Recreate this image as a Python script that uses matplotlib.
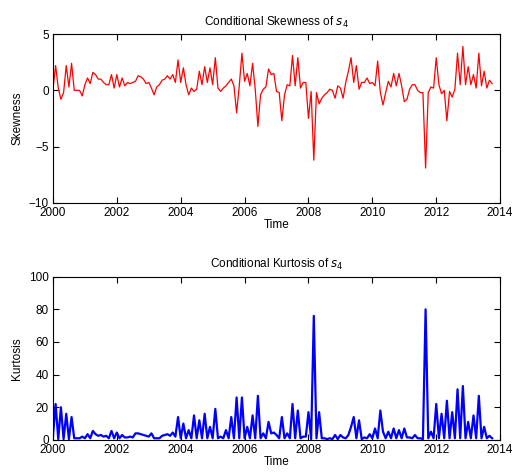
import numpy as np
import matplotlib
matplotlib.use("Agg")
import matplotlib.pyplot as plt

# monthly conditional moments, Jan 2000 onward
skewness = [0.1, 2.2, 0.2, -0.8, -0.2, 2.2, 0.3, 2.4, 0, 0, 0, -0.5, 0.5, 1.1, 0.6, 1.6,
            1.4, 1.0, 1.0, 0.7, 0.5, 0.5, 1.4, 0.2, 1.4, 0.3, 1.1, 0.4, 0.7, 0.6, 0.7, 0.8,
            1.3, 1.2, 1.0, 0.6, 0.7, 0.2, -0.4, 0.3, 0.5, 0.9, 1.0, 1.3, 1.0, 1.4, 0.7, 2.7,
            0.7, 2.0, 0.5, -0.4, 0.2, -0.1, 0.1, 1.7, 0.5, 2.1, 0.7, 2.0, 0.5, 2.9, 0.2, -0.1,
            0.2, 0.4, 0.7, 1.0, 0.4, -2.0, 0.4, 3.3, 0.8, 1.5, 0.4, 2.4, 0.1, -3.2, -0.4, 0.1,
            0.3, 1.9, 1.4, 1.5, -0.1, -0.2, -2.7, -0.4, 0.5, 0.4, 3.1, 0.4, 2.9, 0.2, 0.7, 0.7,
            -2.5, -0.1, -6.2, -0.2, -1.2, -0.7, -0.4, -0.2, 0.1, 0, -0.7, 0.4, 0.2, -0.7, 0.7, 1.7,
            2.9, 0.7, 2.2, 0.1, 0.7, 0.7, 1.1, 0.6, 0.7, 0.4, 2.6, -0.2, -1.3, -0.2, 0.8, 0.3,
            1.5, 0.4, 1.5, 0.4, -1.0, -0.8, 0.1, 0.5, 0.5, 0, -0.2, -0.2, -6.9, -0.2, 0.3, 0.2,
            2.9, 0.5, -0.3, 0, -2.7, -0.1, -0.6, 0.1, 3.3, 0.5, 3.9, 0.5, 2.1, 0.5, 1.4, 0.2,
            3.3, 0.4, 1.7, 0.2, 0.9, 0.6]
kurtosis = [2, 22, 0.5, 20, 0.5, 16, 0.5, 14, 1, 1, 1, 2, 1, 3.5, 1, 5.5,
            3.5, 2.5, 3, 2, 2.5, 1, 5.5, 1, 4.5, 1, 3, 1.5, 1.5, 2, 1.5, 4,
            4, 3.5, 3, 2.5, 2, 4, 1, 1, 1, 2.5, 3, 3.5, 2.5, 4.5, 2, 14,
            1, 10, 1, 6, 1, 15, 1, 12, 1, 16, 1, 8, 1, 19, 1, 2,
            1, 6, 1, 14, 1, 26, 1, 26, 1, 8, 1, 15, 1, 27, 1, 4,
            1, 11, 4, 4.5, 3, 1, 14, 1, 4, 1, 22, 1, 18, 1, 2, 2,
            17, 0.5, 76, 1, 17, 1, 1, 0.5, 1, 0.5, 3, 0.5, 3, 1.5, 1, 3,
            8, 14, 1, 12, 0.5, 1.5, 1, 3.5, 1, 7, 1, 18, 5, 1, 5, 1,
            7, 1, 6, 1, 7, 1.5, 1.5, 1, 3, 1, 1, 0.5, 80, 1, 5, 1,
            22, 1, 16, 1, 24, 1, 17, 1, 31, 1, 33, 1, 11, 1, 15, 1,
            27, 1, 8, 1, 2.5, 1]

time = 2000 + np.arange(len(skewness)) / 12.0
years = [2000, 2002, 2004, 2006, 2008, 2010, 2012, 2014]

plt.rcParams['font.family'] = ['Liberation Sans', 'DejaVu Sans']
plt.rcParams['font.size'] = 8.5

fig = plt.figure(figsize=(5.14, 4.73), dpi=100)
ax1 = fig.add_axes([0.103, 0.571, 0.870, 0.357])
ax2 = fig.add_axes([0.103, 0.070, 0.870, 0.345])

ax1.plot(time, skewness, color='red', linewidth=0.9)
ax1.set_ylim(-10, 5)
ax1.set_yticks([-10, -5, 0, 5])
ax1.set_title('Conditional Skewness of $s_4$', fontsize=8.5, pad=6)
ax1.set_ylabel('Skewness')

ax2.plot(time, kurtosis, color='blue', linewidth=1.6)
ax2.set_ylim(0, 100)
ax2.set_yticks([0, 20, 40, 60, 80, 100])
ax2.set_title('Conditional Kurtosis of $s_4$', fontsize=8.5, pad=6)
ax2.set_ylabel('Kurtosis')

for ax in (ax1, ax2):
    ax.set_xlim(2000, 2014)
    ax.set_xticks(years)
    ax.set_xlabel('Time', labelpad=0)
    ax.tick_params(direction='in', top=True, right=True, length=4, pad=3)

fig.savefig('out.png', dpi=100)
